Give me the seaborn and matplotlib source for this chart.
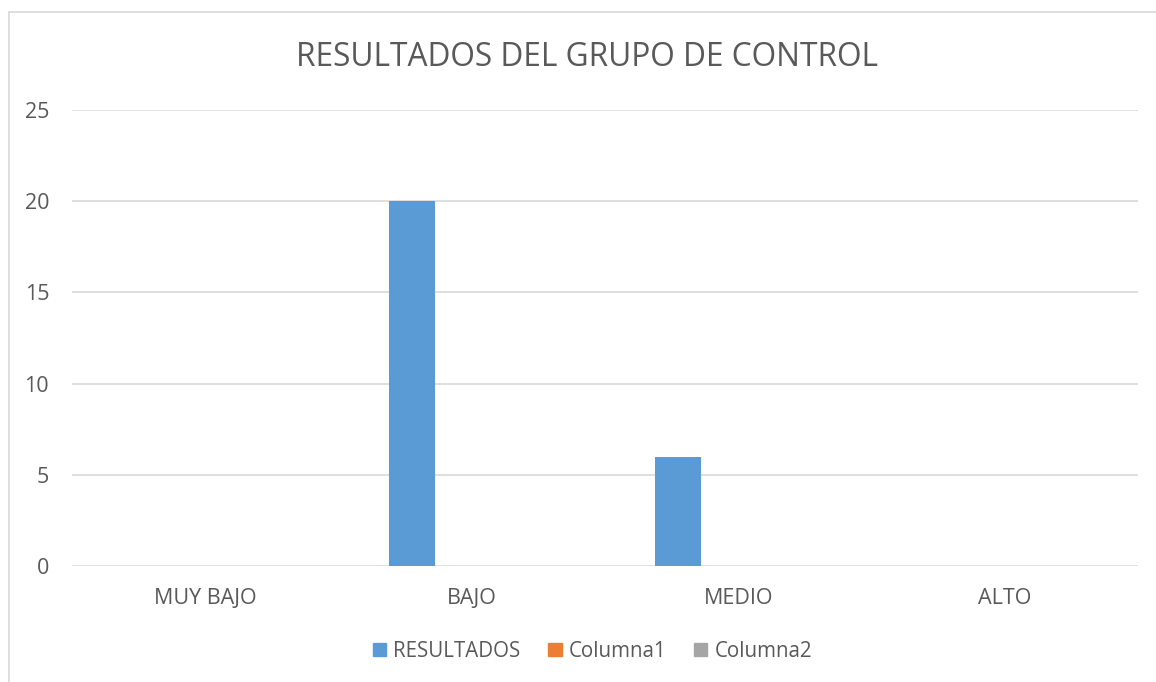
import pandas as pd
import matplotlib.pyplot as plt
import seaborn as sns
from matplotlib.patches import Rectangle

categories = ['MUY BAJO', 'BAJO', 'MEDIO', 'ALTO']
series = ['RESULTADOS', 'Columna1', 'Columna2']
resultados = [0, 20, 6, 0]
columna1 = [0, 0, 0, 0]
columna2 = [0, 0, 0, 0]
colors = ['#5B9BD5', '#ED7D31', '#A5A5A5']

df = pd.DataFrame({
    'categoria': categories * 3,
    'serie': [s for s in series for _ in categories],
    'valor': resultados + columna1 + columna2,
})

sns.set_theme(style='white')
plt.rcParams['font.family'] = ['Open Sans', 'DejaVu Sans']
text_color = '#595959'

fig = plt.figure(figsize=(11.56, 6.82), dpi=100)
ax = fig.add_axes([0.0623, 0.170, 0.9221, 0.6687])

sns.barplot(data=df, x='categoria', y='valor', hue='serie', order=categories,
            hue_order=series, palette=colors, width=0.675, gap=0.233,
            saturation=1, linewidth=0, ax=ax, legend=False)

ax.set_ylim(0, 25)
ax.set_yticks([0, 5, 10, 15, 20, 25])
ax.set_xlim(-0.5, 3.5)
ax.grid(axis='y', color='#D9D9D9', linewidth=1.2)
ax.set_axisbelow(True)
for s in ax.spines.values():
    s.set_visible(False)
ax.set_xlabel('')
ax.set_ylabel('')
ax.tick_params(axis='both', length=0, labelsize=15.5, colors=text_color)
ax.tick_params(axis='y', pad=16.5)
ax.tick_params(axis='x', pad=16)

fig.text(0.508, 0.915, 'RESULTADOS DEL GRUPO DE CONTROL', ha='center', va='center',
         fontsize=22.8, color=text_color)

handles = [Rectangle((0, 0), 1, 1, color=c) for c in colors]
fig.legend(handles, series, loc='center', bbox_to_anchor=(0.5125, 0.045), ncol=3,
           frameon=False, fontsize=14.8, labelcolor=text_color, handlelength=0.65,
           handleheight=0.65, handletextpad=0.35, columnspacing=1.35)

fig.add_artist(plt.Line2D([0.0075, 0.0075], [0, 0.983], color='#D9D9D9', linewidth=1.2,
                          transform=fig.transFigure))
fig.add_artist(plt.Line2D([0.0075, 1], [0.983, 0.983], color='#D9D9D9', linewidth=1.2,
                          transform=fig.transFigure))

fig.savefig('out.png', dpi=100)
